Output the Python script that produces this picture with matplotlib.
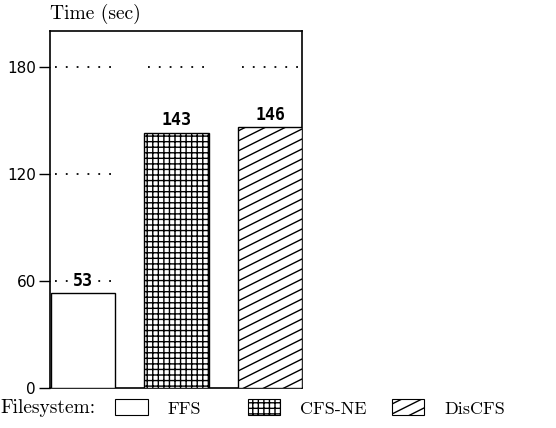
import warnings
import numpy as np
import matplotlib
matplotlib.use("Agg")
import matplotlib.pyplot as plt
import matplotlib.hatch as mhatch
from matplotlib.path import Path
from matplotlib.patches import Patch

systems = ["FFS", "CFS-NE", "DisCFS"]
times = [53, 143, 146]
hatches = ["", "+++", "d"]
yticks = [0, 60, 120, 180]


class ShallowHatch(mhatch.HatchPatternBase):
    # diagonal lines with slope 1/2, like the old plot's DisCFS fill
    def __init__(self, hatch, density):
        self.offsets = np.arange(-5, 11) * 0.1 if "d" in hatch else np.array([])
        self.num_vertices = len(self.offsets) * 2

    def set_vertices_and_codes(self, vertices, codes):
        vertices[0::2, 0] = 0.0
        vertices[0::2, 1] = self.offsets
        vertices[1::2, 0] = 1.0
        vertices[1::2, 1] = self.offsets + 0.5
        codes[0::2] = Path.MOVETO
        codes[1::2] = Path.LINETO


mhatch._hatch_types.append(ShallowHatch)
warnings.filterwarnings("ignore")

plt.rcParams["hatch.linewidth"] = 1.0
SERIF = ["cmr10", "Liberation Serif"]

fig = plt.figure(figsize=(5.56, 4.28), dpi=100)
ax = fig.add_axes([0.0899, 0.0935, 0.4533, 0.8341])

w = 0.685
xs = list(range(len(systems)))
for x, t, h in zip(xs, times, hatches):
    ax.bar(x, t, width=w, color="white", edgecolor="black", hatch=h, linewidth=1.0, zorder=3)
    # dotted grid only above each bar slot
    for yv in yticks[1:]:
        ax.hlines(yv, x - w / 2 + 0.04, x + w / 2, colors="black",
                  linestyles=(0, (1, 5)), linewidth=1.3, zorder=1)
    ax.text(x, t + 2, str(t), ha="center", va="bottom", fontsize=12,
            family="DejaVu Sans Mono", fontweight="bold", zorder=4,
            bbox=dict(facecolor="white", edgecolor="none", pad=0.3))

ax.set_xlim(-0.353, 2.342)
ax.set_ylim(0, 200)
ax.set_xticks([])
ax.set_yticks(yticks)
ax.tick_params(axis="y", length=8, width=1, labelsize=11, direction="out", pad=2)
for s in ax.spines.values():
    s.set_linewidth(1.2)

fig.text(0.09, 0.945, "Time (sec)", family=SERIF, fontsize=14, va="bottom", ha="left")

fig.text(0.0, 0.047, "Filesystem:", family=SERIF, fontsize=14, va="center", ha="left")
leg_x = [0.207, 0.446, 0.705]
for lx, name, h in zip(leg_x, systems, hatches):
    hd = Patch(facecolor="white", edgecolor="black", hatch=h, linewidth=0.8)
    leg = fig.legend([hd], [name], loc="center left", bbox_to_anchor=(lx, 0.047),
                     frameon=False, prop={"family": SERIF, "size": 13}, borderpad=0,
                     borderaxespad=0, handlelength=1.8, handleheight=1.0, handletextpad=1.1)

fig.savefig("out.png", dpi=100)
